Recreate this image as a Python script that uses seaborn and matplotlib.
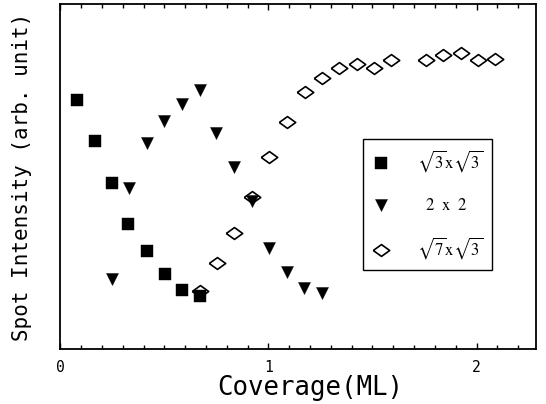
import numpy as np
import pandas as pd
import matplotlib
matplotlib.use("Agg")
import matplotlib.pyplot as plt
import seaborn as sns

# ---- data ----
sq_x = [0.081, 0.166, 0.249, 0.324, 0.418, 0.502, 0.583, 0.671]
sq_y = [72.2, 60.4, 48.2, 36.1, 28.4, 21.7, 17.1, 15.3]

tri_x = [0.246, 0.331, 0.414, 0.498, 0.586, 0.671, 0.750, 0.834, 0.921,
         1.002, 1.088, 1.171, 1.256]
tri_y = [20.2, 46.8, 59.8, 66.2, 71.0, 75.1, 62.5, 52.8, 42.9,
         29.4, 22.4, 17.6, 16.1]

dia_x = [0.671, 0.751, 0.836, 0.919, 1.004, 1.088, 1.175, 1.256, 1.339,
         1.424, 1.507, 1.588, 1.757, 1.840, 1.924, 2.006, 2.089]
dia_y = [16.8, 24.8, 33.5, 44.1, 55.7, 65.9, 74.4, 78.6, 81.4,
         82.5, 81.4, 83.8, 83.8, 85.2, 85.7, 83.8, 84.1]

labels = [r'$\sqrt{3}\mathrm{x}\sqrt{3}$',
          r'$\ \ 2\ \ \mathrm{x}\ \ 2$',
          r'$\sqrt{7}\mathrm{x}\sqrt{3}$']
x_ticks = [0, 1, 2]
x_ticklabels = ["0", "1", "2"]

plt.rcParams['mathtext.fontset'] = 'stix'
mono = ['DejaVu Sans Mono']

fig = plt.figure(figsize=(5.46, 4.04), dpi=100)
ax = fig.add_axes([60 / 546, 55 / 404, 476 / 546, 345 / 404])

dia_marker = np.array([(-1, 0), (0, 0.72), (1, 0), (0, -0.72), (-1, 0)])

df_sq = pd.DataFrame({"x": sq_x, "y": sq_y})
df_tri = pd.DataFrame({"x": tri_x, "y": tri_y})
df_dia = pd.DataFrame({"x": dia_x, "y": dia_y})

sns.scatterplot(data=df_dia, x="x", y="y", ax=ax, marker=dia_marker, s=140,
                facecolor="white", edgecolor="black", linewidth=1.2, zorder=2)
sns.scatterplot(data=df_sq, x="x", y="y", ax=ax, marker="s", s=75,
                color="black", edgecolor="black", linewidth=0.3, zorder=3)
sns.scatterplot(data=df_tri, x="x", y="y", ax=ax, marker="v", s=75,
                color="black", edgecolor="black", linewidth=0.3, zorder=3)

colls = ax.collections
handles = [colls[1], colls[2], colls[0]]
leg = ax.legend(handles, labels, loc="upper left",
                bbox_to_anchor=(0.636, 0.609), frameon=True, fancybox=False,
                edgecolor="black", framealpha=1, fontsize=12,
                borderpad=0.55, labelspacing=1.3, handlelength=1.1,
                handletextpad=1.6, borderaxespad=0)
leg.get_frame().set_linewidth(1.0)

ax.set_xlim(-0.002, 2.286)
ax.set_ylim(0, 100)
ax.set_xticks(x_ticks)
ax.set_xticklabels(x_ticklabels, family=mono, fontsize=10.5)
ax.set_xticks(np.arange(0.1, 2.3, 0.1), minor=True)
ax.set_yticks([])
ax.tick_params(axis="x", which="both", direction="in", top=True, bottom=True,
               pad=8, width=1.0)
ax.tick_params(axis="x", which="major", length=4)
ax.tick_params(axis="x", which="minor", length=3)
for sp in ax.spines.values():
    sp.set_linewidth(1.3)
    sp.set_color("black")

ax.set_xlabel("Coverage(ML)", family=mono, fontsize=18.5)
ax.xaxis.set_label_coords(0.525, -0.075)
ax.set_ylabel("Spot Intensity (arb. unit)", family=mono, fontsize=15)
ax.yaxis.set_label_coords(-0.058, 0.5)

fig.savefig("out.png", dpi=100)
